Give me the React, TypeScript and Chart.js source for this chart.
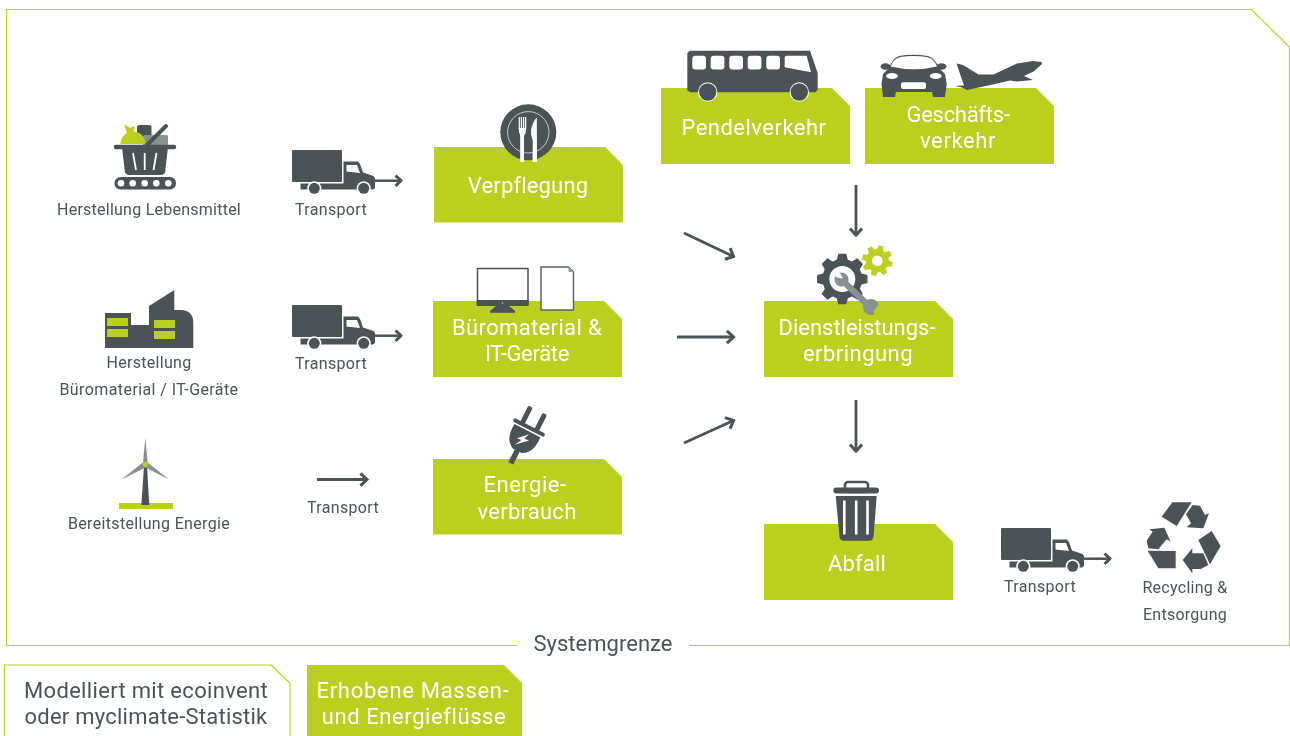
import React, { useEffect, useRef } from "react";
import { Chart, registerables } from "chart.js";

Chart.register(...registerables);

const GREEN = "#bbd01e";
const DARK = "#4b5357";
const GREY = "#8a9092";
const FONT = "Roboto";

// process boxes
const boxNames = ["Verpflegung", "Büromaterial & IT-Geräte", "Energieverbrauch", "Pendelverkehr", "Geschäftsverkehr", "Dienstleistungserbringung", "Abfall", "Erhobene Massen- und Energieflüsse"];
const boxLeft = [434, 433, 433, 661, 865, 764, 764, 307];
const boxTop = [147, 301, 459, 88, 88, 301, 524, 665];
const boxRight = [623, 622, 622, 850, 1054, 953, 953, 522];
const boxBottom = [222.5, 377, 534.5, 164, 164, 377, 600, 736];

// system boundary outline
const frameX = [689, 1289.5, 1289.5, 1251.5, 6.5, 6.5, 517];
const frameY = [645.5, 645.5, 47, 9.5, 9.5, 645.5, 645.5];
const legendOutlineX = [4.5, 4.5, 271, 290, 290];
const legendOutlineY = [736, 665, 665, 683, 736];

// flows
const flowStartX = [684, 677, 684, 856, 856, 317];
const flowStartY = [233, 337, 443, 185, 400, 479.5];
const flowEndX = [733.5, 733.5, 733.5, 856, 856, 367];
const flowEndY = [256.5, 337, 420.5, 235, 451, 479.5];

// labels
const labelText = ["Herstellung Lebensmittel", "Transport", "Herstellung", "Büromaterial / IT-Geräte", "Transport", "Bereitstellung Energie", "Transport", "Transport", "Recycling &", "Entsorgung"];
const labelX = [149, 331, 149, 149, 331, 149, 343, 1040, 1185, 1185];
const labelY = [211, 211, 364, 391, 365, 525, 509, 588, 589, 616];
const labelWidth = [184, 72, 85, 179, 72, 162, 72, 72, 85, 84];
const whiteText = ["Verpflegung", "Büromaterial &", "IT-Geräte", "Energie-", "verbrauch", "Pendelverkehr", "Geschäfts-", "verkehr", "Dienstleistungs-", "erbringung", "Abfall", "Erhobene Massen-", "und Energieflüsse"];
const whiteX = [528, 527, 527, 525, 527, 754, 958, 958, 857, 858, 857, 413, 414];
const whiteY = [187, 329, 355, 486, 513, 129, 116, 142, 329, 355, 565, 692, 718];
const whiteWidth = [120, 150, 84, 83, 99, 145, 103, 76, 157, 110, 58, 193, 184];
const darkLargeText = ["Systemgrenze", "Modelliert mit ecoinvent", "oder myclimate-Statistik"];
const darkLargeX = [603, 146, 146];
const darkLargeY = [645, 692, 718];
const darkLargeWidth = [139, 244, 243];

// icon anchors
const truckX = [292, 292, 1001];
const truckY = [150, 305, 528];

type C = CanvasRenderingContext2D;

function poly(c: C, pts: number[][], fill: string) {
  c.fillStyle = fill;
  c.beginPath();
  pts.forEach((p, i) => (i ? c.lineTo(p[0], p[1]) : c.moveTo(p[0], p[1])));
  c.closePath();
  c.fill();
}
function rr(c: C, x: number, y: number, w: number, h: number, r: number, fill: string) {
  c.fillStyle = fill;
  c.beginPath();
  c.roundRect(x, y, w, h, r);
  c.fill();
}
function circ(c: C, x: number, y: number, r: number, fill: string) {
  c.fillStyle = fill;
  c.beginPath();
  c.arc(x, y, r, 0, Math.PI * 2);
  c.fill();
}
function seg(c: C, pts: number[][], w: number, col: string, cap: CanvasLineCap = "round") {
  c.strokeStyle = col;
  c.lineWidth = w;
  c.lineCap = cap;
  c.lineJoin = "round";
  c.beginPath();
  pts.forEach((p, i) => (i ? c.lineTo(p[0], p[1]) : c.moveTo(p[0], p[1])));
  c.stroke();
}

function truck(c: C) {
  rr(c, 0, 0, 50, 32, 1, DARK);
  poly(c, [[51.5, 11.5], [66, 11.5], [68, 14], [71, 22.5], [81.5, 26], [83, 28], [83, 38], [81, 39.5], [8.5, 39.5], [8.5, 33.5], [51.5, 33.5]], DARK);
  poly(c, [[54.5, 15], [65, 15], [68, 23], [54.5, 21.5]], "#fff");
  circ(c, 22.3, 38.3, 7, "#fff");
  circ(c, 22.3, 38.3, 5.5, DARK);
  circ(c, 71.7, 38.3, 7, "#fff");
  circ(c, 71.7, 38.3, 5.5, DARK);
  seg(c, [[83, 30.7], [108, 30.7]], 2.5, DARK, "butt");
  seg(c, [[103.5, 25.5], [109, 30.7], [103.5, 36]], 3, DARK, "butt");
}

function basket(c: C) {
  rr(c, 137, 125, 14.5, 12, 2, DARK);
  rr(c, 143, 135, 25, 13, 1.5, GREY);
  c.fillStyle = GREEN;
  c.beginPath();
  c.arc(133, 144, 12.5, Math.PI, 0);
  c.fill();
  poly(c, [[124, 124], [130, 128], [135, 126], [133, 134], [127, 133]], GREEN);
  seg(c, [[147, 145], [166, 126]], 4, DARK);
  seg(c, [[116, 147], [174, 147]], 4.5, DARK);
  poly(c, [[122, 147], [168, 147], [165, 173], [162, 175], [128, 175], [125, 173]], DARK);
  seg(c, [[133, 153], [136, 170]], 1.8, "#fff", "butt");
  seg(c, [[144.7, 153], [144.7, 170]], 1.8, "#fff", "butt");
  seg(c, [[156.5, 153], [153.5, 170]], 1.8, "#fff", "butt");
  rr(c, 114.5, 177, 61.5, 12.5, 6, DARK);
  [121, 132.7, 144.7, 156.3, 168.3].forEach((x) => circ(c, x, 183.3, 3.3, "#fff"));
}

function factory(c: C) {
  c.fillStyle = DARK;
  c.beginPath();
  c.moveTo(105, 348);
  c.lineTo(105, 313);
  c.lineTo(131, 313);
  c.lineTo(131, 325);
  c.lineTo(149, 325);
  c.lineTo(149, 306);
  c.lineTo(174.3, 290);
  c.lineTo(174.3, 310);
  c.lineTo(182, 310);
  c.quadraticCurveTo(193.3, 311, 193.3, 323);
  c.lineTo(193.3, 348);
  c.closePath();
  c.fill();
  [[107, 318], [107, 329], [154, 320], [154, 331]].forEach((p) => {
    c.fillStyle = GREEN;
    c.fillRect(p[0], p[1], 21, 8);
  });
}

function turbine(c: C) {
  c.fillStyle = GREEN;
  c.fillRect(119, 503, 54, 6);
  poly(c, [[144, 466], [147, 466], [149.3, 505], [141.3, 505]], DARK);
  poly(c, [[145.3, 437.5], [147.6, 462], [143, 462]], GREY);
  poly(c, [[121.5, 479.5], [143.5, 462], [145.5, 467.5]], GREY);
  poly(c, [[169, 479.5], [147, 462], [145.5, 467.5]], GREY);
  circ(c, 145.3, 464.3, 2.6, GREEN);
}

function plate(c: C) {
  circ(c, 528.3, 132.3, 28, DARK);
  c.strokeStyle = "#c6cacb";
  c.lineWidth = 1;
  c.beginPath();
  c.arc(528.3, 132.3, 20.7, 0, Math.PI * 2);
  c.stroke();
  c.fillStyle = "#fff";
  c.fillRect(520.2, 134, 3.8, 28);
  [518.7, 520.8, 523, 525].forEach((x) => c.fillRect(x, 117, 1.2, 12));
  c.beginPath();
  c.moveTo(518.7, 128);
  c.lineTo(526.2, 128);
  c.quadraticCurveTo(526, 136, 522.2, 137);
  c.quadraticCurveTo(519, 136, 518.7, 128);
  c.fill();
  c.beginPath();
  c.moveTo(536.8, 117.5);
  c.lineTo(537, 162);
  c.lineTo(532.5, 162);
  c.lineTo(532.8, 141);
  c.quadraticCurveTo(530.5, 135, 531, 130);
  c.quadraticCurveTo(532.5, 122, 536.8, 117.5);
  c.fill();
}

function monitor(c: C) {
  c.fillStyle = "#fff";
  c.fillRect(477.5, 268.5, 50.5, 35);
  c.strokeStyle = DARK;
  c.lineWidth = 1.5;
  c.strokeRect(477.5, 268.5, 50.5, 35);
  c.fillStyle = DARK;
  c.fillRect(476.7, 300, 52, 6);
  poly(c, [[496, 306], [509, 306], [515, 311], [515, 312.7], [490, 312.7], [490, 311]], DARK);
  circ(c, 502.5, 302.8, 0.9, GREEN);
  c.fillStyle = "#fff";
  c.strokeStyle = "#5b6367";
  c.beginPath();
  c.moveTo(541, 267);
  c.lineTo(568.5, 267);
  c.lineTo(573.5, 272);
  c.lineTo(573.5, 310);
  c.lineTo(541, 310);
  c.closePath();
  c.fill();
  c.stroke();
  poly(c, [[568.5, 267], [568.5, 272], [573.5, 272]], "#9aa0a2");
}

function bus(c: C) {
  c.fillStyle = DARK;
  c.beginPath();
  c.moveTo(690, 50.7);
  c.lineTo(810, 50.7);
  c.lineTo(817.7, 73);
  c.lineTo(817.7, 90);
  c.lineTo(815.5, 92.3);
  c.lineTo(690, 92.3);
  c.lineTo(687.3, 90);
  c.lineTo(687.3, 53);
  c.closePath();
  c.fill();
  [692.3, 710.7, 729.3, 747.7, 766.3].forEach((x) => rr(c, x, 55.7, 13.7, 13.7, 3, "#fff"));
  poly(c, [[786, 55.7], [806.7, 55.7], [811, 72.3], [784.7, 67.3], [784.7, 57]], "#fff");
  [707.7, 799.3].forEach((x) => {
    circ(c, x, 92, 9.7, "#fff");
    circ(c, x, 92, 8.7, DARK);
  });
}

function car(c: C) {
  c.fillStyle = DARK;
  c.beginPath();
  c.moveTo(889, 68);
  c.quadraticCurveTo(893, 58, 899, 56);
  c.quadraticCurveTo(913, 53.5, 928, 56);
  c.quadraticCurveTo(935, 58, 939, 68);
  c.lineTo(945, 74);
  c.lineTo(946.7, 84);
  c.lineTo(945, 97);
  c.lineTo(933, 97);
  c.lineTo(932, 92);
  c.lineTo(896, 92);
  c.lineTo(895, 97);
  c.lineTo(883, 97);
  c.lineTo(881.5, 84);
  c.lineTo(883, 74);
  c.closePath();
  c.fill();
  c.beginPath();
  c.ellipse(885.5, 66.5, 5, 3.3, 0, 0, Math.PI * 2);
  c.ellipse(941.5, 66.5, 5, 3.3, 0, 0, Math.PI * 2);
  c.fill();
  c.fillStyle = "#fff";
  c.beginPath();
  c.moveTo(890.5, 66.5);
  c.quadraticCurveTo(894, 58.5, 900, 57);
  c.quadraticCurveTo(914, 55, 927, 57);
  c.quadraticCurveTo(934, 58.5, 937, 66.5);
  c.quadraticCurveTo(914, 72, 890.5, 66.5);
  c.fill();
  c.beginPath();
  c.ellipse(892, 76, 6, 3, 0, 0, Math.PI * 2);
  c.ellipse(935.7, 76, 6, 3, 0, 0, Math.PI * 2);
  c.fill();
  rr(c, 901, 82.3, 25, 6.7, 2, "#fff");
}

function plane(c: C) {
  poly(c, [[956.5, 63.5], [963, 65], [978.5, 74.5], [993.5, 74.5], [1017, 63.5], [1033, 61], [1041.5, 62], [1042, 64], [1033.5, 71.5], [1024, 76], [1033, 80], [1017, 81.5], [1010, 80.5], [995, 84], [967, 90], [962, 87.5], [955, 86], [964, 85.5]], DARK);
}

function gearPath(c: C, cx: number, cy: number, ro: number, ri: number, hole: number, teeth: number, col: string, rot: number) {
  c.fillStyle = col;
  c.beginPath();
  const st = (Math.PI * 2) / teeth;
  for (let i = 0; i < teeth; i++) {
    const a = rot + i * st;
    const pts: number[][] = [
      [ri, a - st * 0.36],
      [ro, a - st * 0.2],
      [ro, a + st * 0.2],
      [ri, a + st * 0.36],
    ];
    pts.forEach((p, j) => {
      const x = cx + p[0] * Math.cos(p[1]);
      const y = cy + p[0] * Math.sin(p[1]);
      if (i === 0 && j === 0) c.moveTo(x, y);
      else c.lineTo(x, y);
    });
  }
  c.closePath();
  c.fill();
  circ(c, cx, cy, hole, "#fff");
}

function gears(c: C) {
  gearPath(c, 842.3, 279, 25.5, 20, 13, 8, DARK, 0);
  gearPath(c, 877.3, 260.7, 15.5, 11.5, 5.3, 8, GREEN, 0.25);
  seg(c, [[843, 281], [869, 306]], 6.5, GREY, "butt");
  circ(c, 841.5, 279.5, 7, GREY);
  circ(c, 871, 307, 8, GREY);
  poly(c, [[832.5, 271.5], [840, 273], [843, 278.5], [836.5, 277.5]], "#fff");
  poly(c, [[873, 312], [879, 304], [884, 308], [878, 317]], GREEN);
}

function plug(c: C) {
  c.save();
  c.translate(529, 427.5);
  c.rotate((27 * Math.PI) / 180);
  seg(c, [[-8, -2], [-8, -17]], 5, DARK);
  seg(c, [[8, -2], [8, -17]], 5, DARK);
  seg(c, [[-15.5, 0], [15.5, 0]], 4, DARK);
  c.fillStyle = DARK;
  c.beginPath();
  c.moveTo(-14.5, 3.5);
  c.lineTo(14.5, 3.5);
  c.quadraticCurveTo(16, 21, 5, 26);
  c.lineTo(-5, 26);
  c.quadraticCurveTo(-16, 21, -14.5, 3.5);
  c.fill();
  seg(c, [[0, 25], [0, 40]], 5.5, DARK, "butt");
  poly(c, [[3, 6], [-6, 15], [-1, 14.5], [-5, 22], [6, 11.5], [1, 12]], "#fff");
  c.restore();
}

function trash(c: C) {
  c.strokeStyle = DARK;
  c.lineWidth = 2.6;
  c.beginPath();
  c.roundRect(845, 482, 23, 10, 3);
  c.stroke();
  rr(c, 833.3, 487.5, 45.7, 6, 3, DARK);
  c.fillStyle = DARK;
  c.beginPath();
  c.moveTo(835.7, 496);
  c.lineTo(876.7, 496);
  c.lineTo(873.5, 537);
  c.quadraticCurveTo(873, 540.7, 869, 540.7);
  c.lineTo(844, 540.7);
  c.quadraticCurveTo(840, 540.7, 839.5, 537);
  c.closePath();
  c.fill();
  [844.3, 856.2, 867.5].forEach((x) => {
    c.fillStyle = "#fff";
    c.fillRect(x - 1.3, 500.5, 2.6, 34);
  });
}

function recycle(c: C) {
  const m = (a: number[][]) => a.map((p) => [760 + p[0] / 3, 470 + p[1] / 3]);
  poly(c, m([[1237, 97], [1295, 97], [1250, 168], [1205, 140]]), DARK);
  poly(c, m([[1298, 105], [1320, 107], [1335, 135], [1347, 130], [1330, 175], [1280, 172], [1293, 160], [1278, 133]]), DARK);
  poly(c, m([[1315, 210], [1355, 183], [1382, 228], [1350, 283]]), DARK);
  poly(c, m([[1345, 285], [1322, 297], [1297, 297], [1297, 310], [1268, 270], [1297, 235], [1297, 250], [1330, 250]]), DARK);
  poly(c, m([[1163, 242], [1247, 243], [1247, 295], [1195, 295]]), DARK);
  poly(c, m([[1165, 235], [1160, 212], [1178, 185], [1168, 178], [1213, 173], [1232, 215], [1220, 208], [1195, 238]]), DARK);
}

const iconPlugin = {
  id: "diagramIcons",
  afterDatasetsDraw(chart: any) {
    const c: C = chart.ctx;
    const sx = chart.scales.x;
    const sy = chart.scales.y;
    c.save();
    c.translate(sx.getPixelForValue(0), sy.getPixelForValue(0));
    [basket, factory, turbine, plate, monitor, bus, car, plane, gears, plug, trash, recycle].forEach((f) => f(c));
    truckX.forEach((x, i) => {
      c.save();
      c.translate(x, truckY[i]);
      truck(c);
      c.restore();
    });
    c.restore();

    const put = (t: string[], xs: number[], ys: number[], ws: number[], col: string, size: number) => {
      c.save();
      c.font = `${size}px ${FONT}`;
      c.fillStyle = col;
      c.textAlign = "center";
      c.textBaseline = "middle";
      t.forEach((s, i) => {
        (c as any).letterSpacing = "0px";
        const natural = c.measureText(s).width;
        (c as any).letterSpacing = `${(ws[i] - natural) / s.length}px`;
        c.fillText(s, sx.getPixelForValue(xs[i]), sy.getPixelForValue(ys[i]));
      });
      c.restore();
    };
    put(labelText, labelX, labelY, labelWidth, DARK, 16);
    put(whiteText, whiteX, whiteY, whiteWidth, "#ffffff", 22);
    put(darkLargeText, darkLargeX, darkLargeY, darkLargeWidth, DARK, 22);
  },
};

const toPts = (xs: number[], ys: number[]) => xs.map((x, i) => ({ x, y: ys[i] }));

function buildDatasets() {
  const ds: any[] = [];
  const base = { showLine: true, pointRadius: 0, clip: false, tension: 0 };
  boxNames.forEach((name, i) => {
    const l = boxLeft[i], t = boxTop[i], r = boxRight[i], b = boxBottom[i];
    ds.push({
      ...base,
      label: name,
      data: toPts([l, r - 18, r, r, l, l], [t, t, t + 18, b, b, t]),
      borderWidth: 0,
      borderColor: GREEN,
      backgroundColor: GREEN,
      fill: "shape",
    });
  });
  ds.push({ ...base, label: "Systemgrenze", data: toPts(frameX, frameY), borderWidth: 1.2, borderColor: GREEN, fill: false });
  ds.push({ ...base, label: "Modelliert", data: toPts(legendOutlineX, legendOutlineY), borderWidth: 1.2, borderColor: GREEN, fill: false });
  flowStartX.forEach((x0, i) => {
    const x1 = flowEndX[i], y1 = flowEndY[i], y0 = flowStartY[i];
    const a = Math.atan2(y1 - y0, x1 - x0);
    const h = 9;
    ds.push({ ...base, label: `flow ${i}`, data: toPts([x0, x1], [y0, y1]), borderWidth: 2.8, borderColor: DARK, fill: false });
    ds.push({
      ...base,
      label: `head ${i}`,
      data: toPts(
        [x1 - h * Math.cos(a - 0.75), x1, x1 - h * Math.cos(a + 0.75)],
        [y1 - h * Math.sin(a - 0.75), y1, y1 - h * Math.sin(a + 0.75)]
      ),
      borderWidth: 3,
      borderColor: DARK,
      fill: false,
    });
  });
  return ds;
}

export default function App() {
  const ref = useRef<HTMLCanvasElement>(null);
  useEffect(() => {
    document.body.style.margin = "0";
    document.body.style.background = "#fff";
    const chart = new Chart(ref.current!, {
      type: "scatter",
      data: { datasets: buildDatasets() },
      plugins: [iconPlugin],
      options: {
        animation: false,
        responsive: false,
        maintainAspectRatio: false,
        layout: { padding: 0 },
        plugins: { legend: { display: false }, tooltip: { enabled: false } },
        scales: {
          x: { type: "linear", display: false, min: 0, max: 1290 },
          y: { type: "linear", display: false, min: 0, max: 736, reverse: true },
        },
      },
    } as any);
    return () => chart.destroy();
  }, []);
  return <canvas ref={ref} width={1290} height={736} style={{ display: "block", position: "fixed", left: 0, top: 0 }} />;
}
